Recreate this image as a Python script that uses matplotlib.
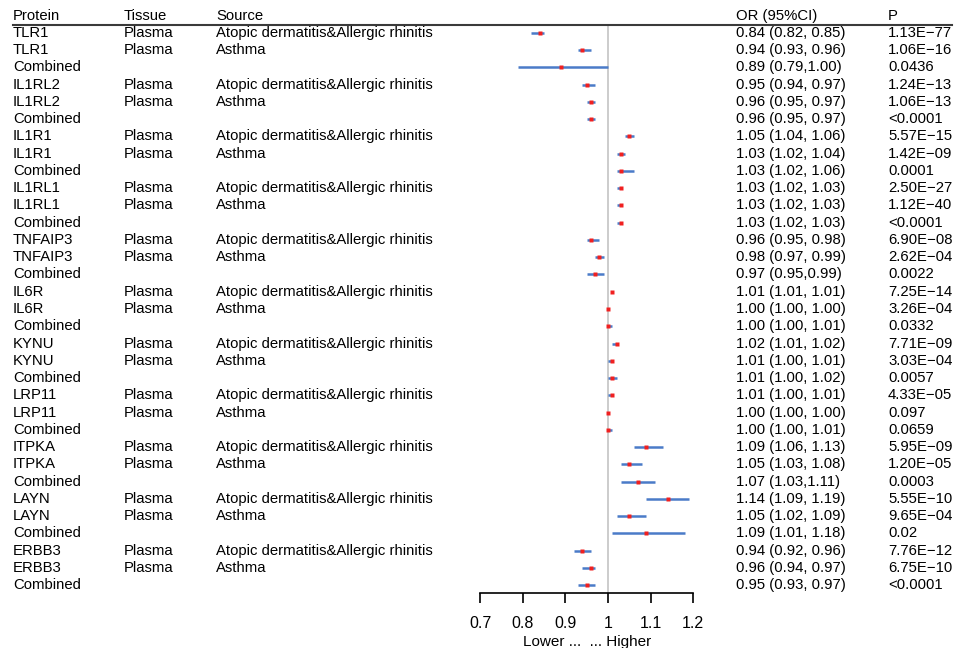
import matplotlib.pyplot as plt
from matplotlib.transforms import blended_transform_factory

plt.rcParams['font.family'] = ['Liberation Sans', 'DejaVu Sans']

# Data
genes = ['TLR1', 'IL1RL2', 'IL1R1', 'IL1RL1', 'TNFAIP3', 'IL6R',
         'KYNU', 'LRP11', 'ITPKA', 'LAYN', 'ERBB3']
sources = ['Atopic dermatitis&Allergic rhinitis', 'Asthma', '']

or_vals = [0.84, 0.94, 0.89, 0.95, 0.96, 0.96, 1.05, 1.03, 1.03,
           1.03, 1.03, 1.03, 0.96, 0.98, 0.97, 1.01, 1.00, 1.00,
           1.02, 1.01, 1.01, 1.01, 1.00, 1.00, 1.09, 1.05, 1.07,
           1.14, 1.05, 1.09, 0.94, 0.96, 0.95]
ci_low = [0.82, 0.93, 0.79, 0.94, 0.95, 0.95, 1.04, 1.02, 1.02,
          1.02, 1.02, 1.02, 0.95, 0.97, 0.95, 1.01, 1.00, 1.00,
          1.01, 1.00, 1.00, 1.00, 1.00, 1.00, 1.06, 1.03, 1.03,
          1.09, 1.02, 1.01, 0.92, 0.94, 0.93]
ci_high = [0.85, 0.96, 1.00, 0.97, 0.97, 0.97, 1.06, 1.04, 1.06,
           1.03, 1.03, 1.03, 0.98, 0.99, 0.99, 1.01, 1.00, 1.01,
           1.02, 1.01, 1.02, 1.01, 1.00, 1.01, 1.13, 1.08, 1.11,
           1.19, 1.09, 1.18, 0.96, 0.97, 0.97]
or_text = ['0.84 (0.82, 0.85)', '0.94 (0.93, 0.96)', '0.89 (0.79,1.00)',
           '0.95 (0.94, 0.97)', '0.96 (0.95, 0.97)', '0.96 (0.95, 0.97)',
           '1.05 (1.04, 1.06)', '1.03 (1.02, 1.04)', '1.03 (1.02, 1.06)',
           '1.03 (1.02, 1.03)', '1.03 (1.02, 1.03)', '1.03 (1.02, 1.03)',
           '0.96 (0.95, 0.98)', '0.98 (0.97, 0.99)', '0.97 (0.95,0.99)',
           '1.01 (1.01, 1.01)', '1.00 (1.00, 1.00)', '1.00 (1.00, 1.01)',
           '1.02 (1.01, 1.02)', '1.01 (1.00, 1.01)', '1.01 (1.00, 1.02)',
           '1.01 (1.00, 1.01)', '1.00 (1.00, 1.00)', '1.00 (1.00, 1.01)',
           '1.09 (1.06, 1.13)', '1.05 (1.03, 1.08)', '1.07 (1.03,1.11)',
           '1.14 (1.09, 1.19)', '1.05 (1.02, 1.09)', '1.09 (1.01, 1.18)',
           '0.94 (0.92, 0.96)', '0.96 (0.94, 0.97)', '0.95 (0.93, 0.97)']
p_text = ['1.13E\u221277', '1.06E\u221216', '0.0436',
          '1.24E\u221213', '1.06E\u221213', '<0.0001',
          '5.57E\u221215', '1.42E\u221209', '0.0001',
          '2.50E\u221227', '1.12E\u221240', '<0.0001',
          '6.90E\u221208', '2.62E\u221204', '0.0022',
          '7.25E\u221214', '3.26E\u221204', '0.0332',
          '7.71E\u221209', '3.03E\u221204', '0.0057',
          '4.33E\u221205', '0.097', '0.0659',
          '5.95E\u221209', '1.20E\u221205', '0.0003',
          '5.55E\u221210', '9.65E\u221204', '0.02',
          '7.76E\u221212', '6.75E\u221210', '<0.0001']
xticks = [0.7, 0.8, 0.9, 1, 1.1, 1.2]

# one row per gene/source
rows = []
for g in genes:
    for s in sources:
        rows.append((g if s else 'Combined', 'Plasma' if s else '', s))
ypos = list(range(len(rows)))

#=============================================
fig = plt.figure(figsize=(9.6, 6.48), dpi=100)
ax = fig.add_axes([480 / 960, 55 / 648, 213.3 / 960, 568 / 648])

ax.axvline(1, color='#c8c8c8', lw=1.3, zorder=0)
ax.hlines(ypos, ci_low, ci_high, color='#4a7bc8', lw=1.8)
ax.plot(or_vals, ypos, 's', color='#f02020', ms=3.3, mec='none')

ax.set_xlim(0.7, 1.2)
ax.set_ylim(32.46, -0.46)
ax.set_xticks(xticks)
ax.set_xticklabels(['0.7', '0.8', '0.9', '1', '1.1', '1.2'], fontsize=11.5)
ax.tick_params(axis='x', length=7.2, width=1.2, pad=9.5)
ax.set_yticks([])
for side in ['top', 'left', 'right']:
    ax.spines[side].set_visible(False)
ax.spines['bottom'].set_linewidth(1.2)
ax.set_xlabel('Lower ...  ... Higher', fontsize=11, labelpad=2.5)

# table columns
tr = blended_transform_factory(fig.transFigure, ax.transData)
col_x = [13, 124, 216, 736, 888]
headers = ['Protein', 'Tissue', 'Source', 'OR (95%CI)', 'P']
fs = 10.75
for x, h in zip(col_x, headers):
    ax.text(x / 960, -1.0, h, transform=tr, ha='left', va='center',
            fontsize=fs, clip_on=False)
for i, (prot, tis, src) in enumerate(rows):
    cells = [prot, tis, src, or_text[i], p_text[i]]
    for x, c in zip(col_x, cells):
        ax.text(x / 960, i, c, transform=tr, ha='left', va='center',
                fontsize=fs, clip_on=False)

# header line
ax.plot([13 / 960, 952 / 960], [-0.46, -0.46], transform=tr, color='#3a3a3a',
        lw=1.5, clip_on=False)

fig.savefig('out.png', dpi=100)
